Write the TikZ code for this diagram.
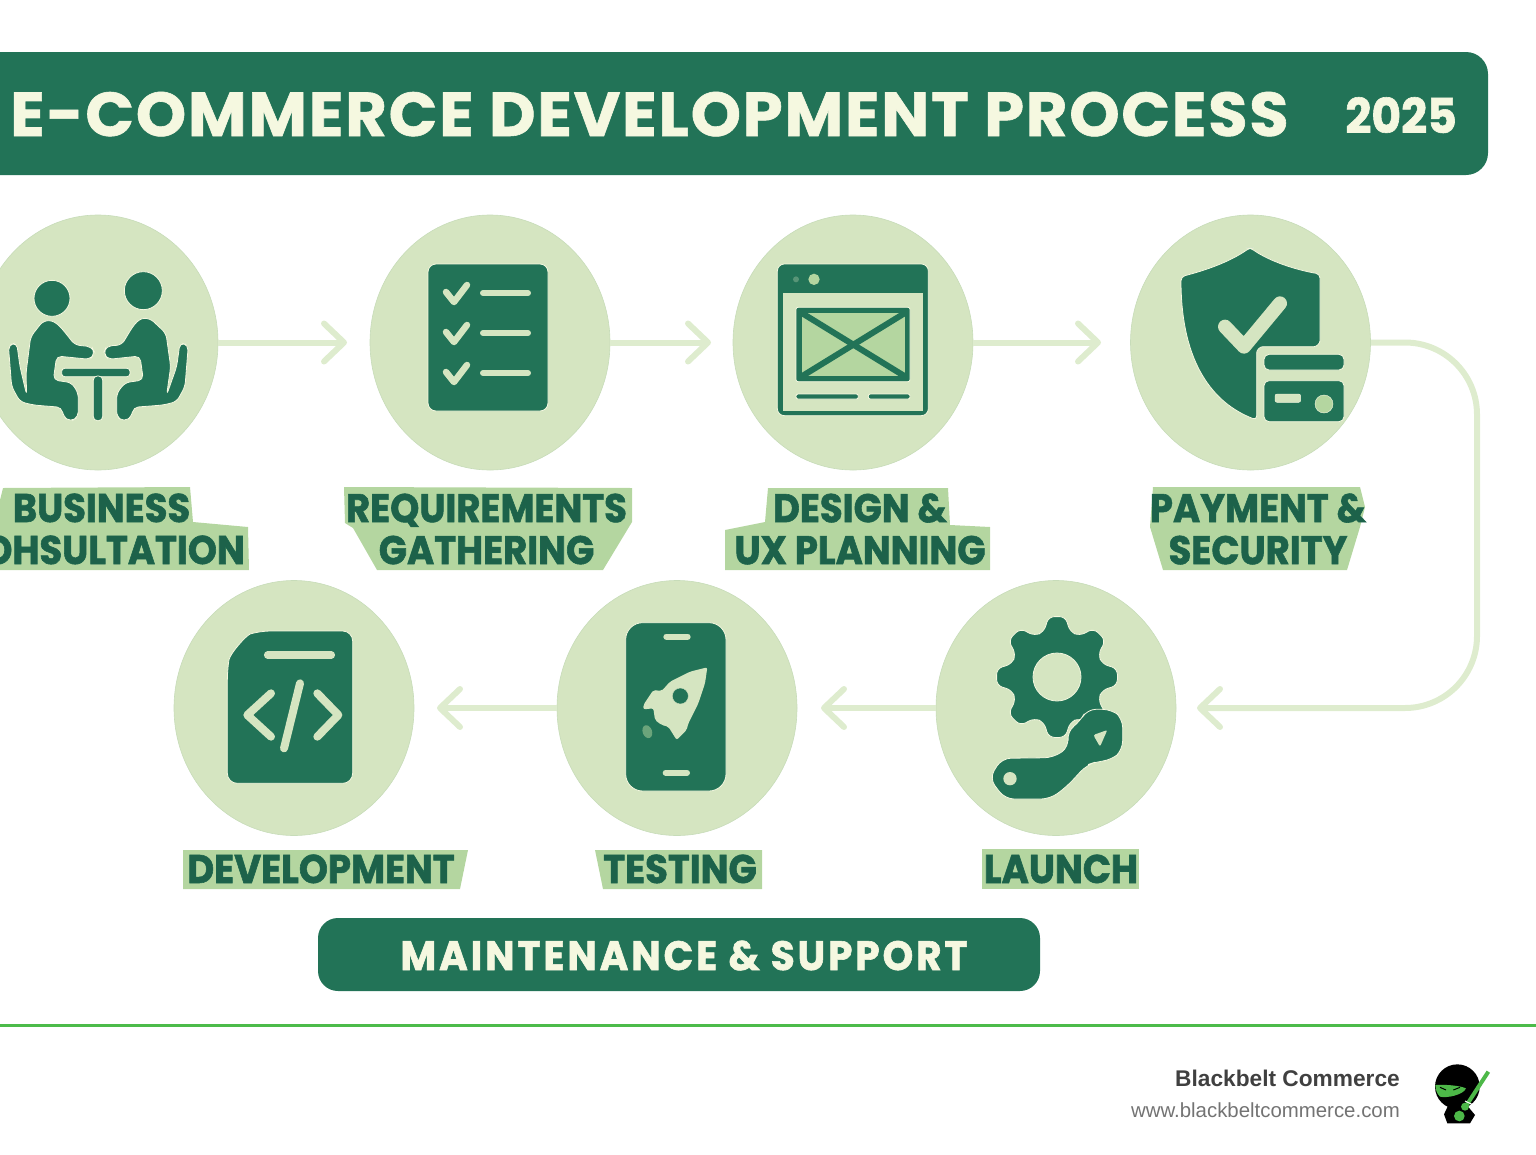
\documentclass[tikz,border=0pt]{standalone}
\usepackage{fontspec}
\usetikzlibrary{positioning, arrows.meta, shapes.geometric}
\setmainfont{Liberation Sans}
\newfontfamily\headfont[FakeStretch=0.95]{Poppins}
\newfontfamily\titlefont[FakeStretch=1.032, LetterSpace=2.8]{Poppins}
\newfontfamily\stepfont[FakeStretch=0.925]{Poppins}
\definecolor{shopgreen}{RGB}{34, 115, 87}
\definecolor{shoppale}{RGB}{213, 229, 193}
\definecolor{shopmid}{RGB}{180, 214, 160}
\definecolor{shoparrow}{RGB}{222, 236, 206}
\definecolor{shopcream}{RGB}{245, 248, 224}
\definecolor{shopline}{RGB}{76, 187, 74}
\definecolor{ninjagreen}{RGB}{77, 184, 72}
\newcommand{\halotext}[2]{\special{pdf:code 2 Tr 0.6 w #1 RG}#2\special{pdf:code 0 Tr}}
\newcommand{\creamtext}[1]{\halotext{0.96 0.97 0.88}{#1}}
\newcommand{\darktext}[1]{\halotext{0.11 0.4 0.3}{#1}}
\tikzset{
    stepcircle/.style={ellipse, fill=shoppale, draw=shoppale!92!shopgreen, line width=0.6pt, minimum width=240pt, minimum height=255pt, inner sep=0pt},
    stepback/.style={fill=shopmid},
    steptext/.style={text=shopgreen!85!black, inner sep=0pt, align=center, font=\stepfont\bfseries\fontsize{40}{42}\selectfont},
    flowline/.style={draw=shoparrow, line width=6pt, -{Straight Barb[length=20pt, width=38pt, round]}},
    icondark/.style={fill=shopgreen, draw=shopcream, line width=0.8pt},
    iconpale/.style={draw=shoppale, line cap=round, line join=round},
    banner/.style={fill=shopgreen, rounded corners=22pt},
    bannertext/.style={text=shopcream, inner sep=0pt, font=\headfont\bfseries}
}
\begin{document}
\begin{tikzpicture}[x=1pt, y=-1pt]
\useasboundingbox (0,0) rectangle (1536,1154);

% title
\fill[banner] (-30,52) rectangle (1488,175);
\node[bannertext, anchor=base west, font=\titlefont\bfseries\fontsize{62}{62}\selectfont] (title) at (10,136) {\creamtext{E-COMMERCE DEVELOPMENT PROCESS}};
\node[bannertext, anchor=base east, font=\headfont\bfseries\fontsize{48}{48}\selectfont] (year) at (1457,133) {\creamtext{2025}};

% steps
\node[stepcircle] (consult) at (98,342.5) {};
\node[stepcircle] (require) at (490,342.5) {};
\node[stepcircle] (design) at (853,342.5) {};
\node[stepcircle] (payment) at (1250.5,342.5) {};
\node[stepcircle] (develop) at (294,708) {};
\node[stepcircle] (testing) at (677,708) {};
\node[stepcircle] (launch) at (1056,708) {};

% connectors
\coordinate (tiprequire) at (347,342.5);
\coordinate (tipdesign) at (711,342.5);
\coordinate (tippayment) at (1101,342.5);
\coordinate (tiplaunch) at (1197,708);
\coordinate (tiptesting) at (821,708);
\coordinate (tipdevelop) at (437,708);
\coordinate (bendtop) at (1477,342.5);
\coordinate (bendlow) at (1477,708);
\draw[flowline] (consult.east) -- (tiprequire);
\draw[flowline] (require.east) -- (tipdesign);
\draw[flowline] (design.east) -- (tippayment);
\draw[flowline, rounded corners=72pt] (payment.east) -- (bendtop) -- (bendlow) -- (tiplaunch);
\draw[flowline] (launch.west) -- (tiptesting);
\draw[flowline] (testing.west) -- (tipdevelop);

% label backings
\fill[stepback] (3,488) -- (190,487) -- (193,522) -- (248,527) -- (249,570) -- (-5,570) -- (-5,520) -- cycle;
\fill[stepback] (344,487) -- (632,488) -- (632,522) -- (603,570) -- (377,570) -- (353,528) -- (345,523) -- cycle;
\fill[stepback] (768,488) -- (948,488) -- (950,525) -- (990,527) -- (990,570) -- (725,570) -- (725,530) -- (765,522) -- cycle;
\fill[stepback] (1153,487) -- (1360,487) -- (1365,507) -- (1360,527) -- (1347,570) -- (1163,570) -- (1150,527) -- cycle;
\fill[stepback] (183,850) -- (468,850) -- (460,889) -- (183,889) -- cycle;
\fill[stepback] (595,850) -- (762,850) -- (762,889) -- (603,889) -- cycle;
\fill[stepback] (982,849) -- (1139,849) -- (1139,889) -- (982,889) -- cycle;

% label texts
\node[steptext, anchor=base] (consulttop) at (101.5,522) {\darktext{BUSINESS}};
\node[steptext, anchor=base east] (consultlow) at (245,564) {\darktext{OHSULTATION}};
\node[steptext] (requirelabel) at (486.5,529) {\darktext{REQUIREMENTS}\\\darktext{GATHERING}};
\node[steptext] (designlabel) at (860,529) {\darktext{DESIGN \&}\\\darktext{UX PLANNING}};
\node[steptext] (paymentlabel) at (1258,529) {\darktext{PAYMENT \&}\\\darktext{SECURITY}};
\node[steptext, anchor=base] (developlabel) at (321,883) {\darktext{DEVELOPMENT}};
\node[steptext, anchor=base] (testinglabel) at (680,883) {\darktext{TESTING}};
\node[steptext, anchor=base] (launchlabel) at (1061,883) {\darktext{LAUNCH}};

% icon: two people at a table
\begin{scope}[shift={(0,200)}, scale=1/3]
    \draw[icondark] (156,295) circle (54);
    \draw[icondark] (430,272) circle (57);
    \draw[icondark, rounded corners=5pt] (130,362) .. controls (170,362) and (185,385) .. (225,435) -- (275,440) -- (285,460) -- (270,478) -- (170,468) -- (160,540) -- (215,548) -- (235,580) -- (235,650) -- (212,665) -- (190,650) -- (185,622) -- (100,615) -- (60,605) -- (35,560) -- (25,435) -- (50,428) -- (60,500) -- (80,585) -- (78,520) -- (92,410) -- cycle;
    \draw[icondark, rounded corners=5pt] (450,355) .. controls (410,355) and (395,385) .. (365,435) -- (320,438) -- (310,460) -- (325,478) -- (420,468) -- (430,540) -- (375,548) -- (350,580) -- (350,650) -- (372,665) -- (395,650) -- (400,622) -- (490,615) -- (530,605) -- (555,560) -- (565,435) -- (540,428) -- (530,500) -- (500,585) -- (512,500) -- (498,400) -- cycle;
    \draw[icondark, rounded corners=3pt] (185,505) rectangle (390,530);
    \draw[icondark, rounded corners=4pt] (280,528) rectangle (308,662);
\end{scope}

% icon: checklist
\draw[icondark, rounded corners=8pt] (428,264) rectangle (548,411);
\foreach \y in {0,40,80}{
    \draw[iconpale, line width=6.5pt] (446,{292+\y}) -- (454,{302+\y}) -- (467,{285+\y});
    \draw[iconpale, line width=6pt] (483,{293+\y}) -- (528,{293+\y});
}

% icon: page wireframe
\begin{scope}[shift={(760,250)}, scale=1/3]
    \draw[icondark, rounded corners=7pt] (52,42) rectangle (505,497);
    \fill[shoppale] (68,130) rectangle (490,482);
    \fill[shopmid] (162,88) circle (17);
    \fill[shopgreen!70!shoppale] (108,88) circle (9);
    \draw[icondark, rounded corners=2pt] (108,172) rectangle (450,395);
    \fill[shopmid] (125,190) rectangle (435,378);
    \draw[shopgreen, line width=6pt] (122,187) -- (438,381);
    \draw[shopgreen, line width=6pt] (438,187) -- (122,381);
    \draw[icondark, rounded corners=2pt] (108,432) rectangle (295,447);
    \draw[icondark, rounded corners=2pt] (325,432) rectangle (450,447);
\end{scope}

% icon: shield and card
\begin{scope}[shift={(1120,220)}, scale=1/3]
    \draw[icondark, rounded corners=4pt] (390,83) .. controls (450,125) and (530,150) .. (600,162) -- (600,350) .. controls (600,370) and (590,380) .. (570,380) -- (440,380) .. controls (420,380) and (410,390) .. (410,410) -- (410,600) .. controls (280,550) and (183,430) .. (183,170) .. controls (260,150) and (330,125) .. cycle;
    \draw[iconpale, line width=14pt] (315,320) -- (372,380) -- (480,250);
    \draw[icondark, rounded corners=5pt] (432,450) -- (432,403) -- (672,403) -- (672,450) -- cycle;
    \draw[icondark, rounded corners=5pt] (432,482) -- (432,605) -- (672,605) -- (672,482) -- cycle;
    \draw[fill=shoppale, draw=shopcream, rounded corners=2pt] (465,522) rectangle (542,547);
    \draw[fill=shopmid, draw=shopcream] (612,552) circle (27);
\end{scope}

% icon: code sheet
\begin{scope}[shift={(210,620)}, scale=1/3]
    \draw[icondark, rounded corners=10pt] (52,150) .. controls (60,100) and (110,45) .. (150,33) -- (428,33) -- (428,490) -- (52,490) -- cycle;
    \draw[iconpale, line width=7.5pt] (173,105) -- (364,105);
    \draw[iconpale, line width=8pt] (183,220) -- (112,285) -- (183,350);
    \draw[iconpale, line width=8pt] (270,190) -- (222,385);
    \draw[iconpale, line width=8pt] (322,220) -- (385,285) -- (322,350);
\end{scope}

% icon: phone and rocket
\begin{scope}[shift={(560,610)}, scale=1/3]
    \draw[icondark, rounded corners=17pt] (197,38) rectangle (498,543);
    \draw[iconpale, line width=6pt] (319,80) -- (383,80);
    \draw[iconpale, line width=6pt] (317,488) -- (381,488);
    \fill[shoppale, rounded corners=2pt] (442,172) -- (390,185) -- (330,215) -- (305,243) -- (280,240) -- (250,285) -- (250,298) -- (280,295) -- (285,330) -- (305,345) -- (325,350) -- (350,390) -- (380,360) -- (385,340) -- (415,280) -- (435,220) -- cycle;
    \draw[fill=shopgreen, draw=shoppale] (361,258) circle (24);
    \fill[shopgreen!50!shopmid, rotate around={20:(262,365)}] (262,365) ellipse (14 and 20);
\end{scope}

% icon: gear and wrench
\begin{scope}[shift={(1057,677)}]
    \draw[icondark, rounded corners=6pt, even odd rule] (-8:61) \foreach \a in {0,45,...,270}{ -- (\a+8:61) -- (\a+16:47) -- (\a+29:47) -- (\a+37:61)} -- (323:61) -- (331:47) -- (344:47) -- cycle (0,0) circle (24);
\end{scope}
\begin{scope}[shift={(930,590)}, scale=1/3]
    \draw[icondark, rounded corners=9pt] (178,565) -- (215,505) -- (370,503) -- (418,470) -- (410,425) -- (450,395) -- (470,358) -- (545,358) -- (578,385) -- (578,480) -- (545,510) -- (500,515) -- (470,525) -- (410,590) -- (360,627) -- (225,627) -- cycle;
    \fill[shoppale] (240,566) circle (20);
    \fill[shoppale, rounded corners=2pt] (490,435) -- (532,420) -- (510,470) -- cycle;
\end{scope}

% maintenance bar
\fill[banner, rounded corners=20pt] (318,918) rectangle (1040,991);
\node[bannertext, anchor=base, font=\headfont\bfseries\fontsize{41}{41}\selectfont] (support) at (684,970) {\addfontfeature{LetterSpace=7.2}\creamtext{MAINTENANCE \& SUPPORT}};

% footer
\draw[shopline, line width=3pt] (0,1025) -- (1536,1025);
\node[anchor=base east, inner sep=0pt, text=black!75, font=\bfseries\fontsize{22.7}{23}\selectfont] (brand) at (1400,1086) {Blackbelt Commerce};
\node[anchor=base east, inner sep=0pt, text=black!55, font=\fontsize{20.4}{21}\selectfont] (site) at (1400,1117) {www.blackbeltcommerce.com};

% ninja logo
\begin{scope}[shift={(1420,1055)}, scale=1/3]
    \fill[black] (112,95) circle (67);
    \fill[black] (85,150) -- (140,150) -- (165,180) -- (150,205) -- (82,205) -- (72,178) -- cycle;
    \fill[ninjagreen] (46,90) .. controls (80,88) and (120,92) .. (138,100) .. controls (130,120) and (80,130) .. (60,125) .. controls (50,115) and (47,105) .. cycle;
    \draw[black, line width=1pt] (60,97) -- (78,105);
    \draw[black, line width=1pt] (120,97) -- (100,105);
    \draw[ninjagreen, line width=4pt] (140,150) -- (205,50);
    \draw[white, line width=1pt] (135,138) -- (160,150);
    \fill[ninjagreen] (135,155) circle (12);
    \fill[ninjagreen] (118,183) circle (16);
\end{scope}
\end{tikzpicture}
\end{document}
